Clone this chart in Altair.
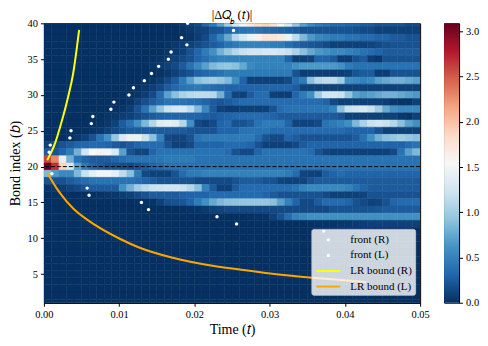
import altair as alt
import pandas as pd

FONT = "Liberation Serif"
T_STEP = 0.001
times = [.0005, .0015, .0025, .0035, .0045, .0055, .0065, .0075, .0085, .0095,
         .0105, .0115, .0125, .0135, .0145, .0155, .0165, .0175, .0185, .0195,
         .0205, .0215, .0225, .0235, .0245, .0255, .0265, .0275, .0285, .0295,
         .0305, .0315, .0325, .0335, .0345, .0355, .0365, .0375, .0385, .0395,
         .0405, .0415, .0425, .0435, .0445, .0455, .0465, .0475, .0485, .0495]

Z = [0, 0, 0, 0, 0, 0, 0, 0, 0, 0]
rows = {
    40: [Z, [0, 0, 0, 0, 0, 0, 0, .02, .05, .1], [.15, .3, .45, .7, 1.0, 1.3, 1.5, 1.7, 1.85, 1.9], [1.8, 1.6, 1.3, .95, .7, .55, .45, .4, .35, .35], [.3, .3, .25, .25, .2, .2, .2, .2, .15, .15]],
    39: [Z, [0, 0, 0, 0, 0, 0, 0, 0, .02, .05], [.1, .12, .2, .22, .3, .35, .4, .42, .4, .35], [.32, .3, .28, .25, .2, .2, .2, .2, .2, .2], [.2, .18, .15, .15, .1, .1, .1, .1, .1, .1]],
    38: [Z, [0, 0, 0, 0, 0, 0, 0, 0, .01, .03], [.08, .15, .3, .5, .75, 1.1, 1.3, 1.45, 1.6, 1.75], [1.75, 1.7, 1.45, 1.15, .85, .65, .55, .5, .45, .45], [.4, .4, .35, .35, .3, .3, .25, .25, .2, .2]],
    37: [Z, [0, 0, 0, 0, 0, 0, .02, .05, .08, .1], [.15, .2, .25, .3, .4, .45, .5, .5, .5, .5], [.47, .45, .38, .3, .25, .22, .2, .15, .1, .1], [.1, .1, .1, .12, .15, .18, .2, .2, .2, .2]],
    36: [Z, [0, 0, 0, 0, 0, .01, .03, .06, .1, .2], [.3, .45, .6, .8, .95, 1.1, 1.2, 1.25, 1.25, 1.3], [1.3, 1.25, 1.2, 1.05, .9, .75, .65, .6, .55, .55], [.5, .45, .4, .35, .3, .25, .25, .25, .25, .25]],
    35: [Z, [0, 0, 0, 0, .01, .03, .05, .1, .15, .2], [.3, .38, .45, .5, .5, .5, .5, .5, .5, .5], [.5, .5, .3, .1, .1, .12, .3, .3, .25, .08], [.08, .2, .25, .08, .05, .2, .2, .2, .2, .2]],
    34: [Z, [0, 0, 0, .01, .03, .06, .1, .15, .25, .4], [.55, .7, .85, .92, .95, .9, .75, .55, .5, .5], [.5, .5, .5, .6, .65, .65, .65, .65, .65, .6], [.45, .4, .4, .4, .4, .4, .4, .4, .4, .4]],
    33: [Z, [0, 0, 0, 0, 0, .02, .05, .1, .15, .2], [.28, .32, .35, .4, .45, .45, .45, .45, .45, .45], [.45, .45, .45, .2, .08, .08, .08, .08, .08, .08], [.1, .2, .25, .25, .08, .08, .2, .2, .2, .2]],
    32: [Z, [0, 0, 0, .01, .03, .07, .15, .25, .45, .7], [.9, .98, 1.0, .95, .85, .6, .3, .1, .1, .1], [.1, .1, .15, .35, .45, .9, 1.1, 1.15, 1.15, 1.0], [.6, .55, .5, .55, .7, .75, .8, .8, .75, .7]],
    31: [Z, [0, 0, .01, .04, .08, .15, .25, .32, .4, .43], [.45, .4, .35, .32, .3, .3, .3, .3, .3, .3], [.3, .3, .3, .25, .12, .1, .1, .1, .1, .1], [.1, .1, .1, .1, .1, .1, .1, .1, .1, .1]],
    30: [Z, [0, .01, .03, .08, .15, .35, .7, .9, 1.05, 1.12], [1.15, 1.15, 1.1, .8, .35, .12, .1, .25, .35, .35], [.1, .08, .08, .3, .45, .6, 1.0, 1.25, 1.25, 1.2], [.95, .7, .65, .7, .75, .8, .8, .75, .7, .65]],
    29: [Z, [0, .03, .1, .18, .25, .32, .4, .4, .4, .38], [.35, .3, .25, .22, .25, .3, .35, .35, .35, .35], [.35, .35, .35, .35, .35, .35, .35, .3, .15, .1], [.1, .1, .1, .1, .1, .08, .05, .03, .02, .1]],
    28: [[0, 0, 0, 0, 0, 0, 0, 0, 0, .01], [.03, .08, .2, .4, .7, .95, 1.2, 1.28, 1.3, 1.15], [.85, .55, .25, .1, .08, .08, .1, .1, .1, .1], [.2, .35, .4, .4, .4, .42, .42, .42, .5, .9], [1.2, 1.25, 1.3, 1.2, 1.0, .75, .6, .55, .55, .55]],
    27: [[0, 0, 0, 0, 0, 0, 0, .01, .03, .05], [.08, .1, .15, .2, .25, .28, .3, .3, .3, .3], [.3, .28, .25, .28, .3, .33, .35, .35, .35, .33], [.3, .25, .25, .25, .25, .25, .25, .25, .25, .2], [.1, .1, .1, .1, .1, .1, .1, .05, .03, .1]],
    26: [[0, 0, 0, 0, 0, 0, .01, .02, .05, .1], [.25, .4, .6, .85, 1.1, 1.35, 1.4, 1.35, 1.1, .6], [.15, .1, .15, .3, .35, .2, .2, .25, .4, .45], [.45, .45, .3, .12, .12, .12, .15, .4, .45, .5], [.6, .85, 1.05, 1.2, 1.25, 1.2, 1.1, .9, .7, .6]],
    25: [[0, 0, 0, 0, 0, .01, .03, .05, .1, .15], [.2, .25, .25, .25, .25, .25, .25, .25, .25, .22], [.2, .2, .2, .3, .3, .3, .4, .4, .4, .4], [.35, .35, .35, .35, .35, .35, .35, .35, .35, .35], [.3, .3, .3, .3, .2, .1, .1, .1, .1, .1]],
    24: [[0, 0, 0, .01, .05, .1, .2, .4, .6, .95], [1.3, 1.45, 1.45, 1.2, .9, .5, .15, .12, .12, .2], [.4, .45, .45, .45, .45, .45, .45, .45, .35, .2], [.15, .15, .3, .25, .2, .2, .2, .2, .2, .2], [.2, .25, .4, .6, .8, .9, .95, 1.0, .95, .9]],
    23: [[.1, .15, .2, .25, .3, .32, .35, .33, .3, .25], [.2, .25, .3, .35, .35, .35, .2, .1, .1, .15], [.3, .3, .3, .3, .35, .35, .35, .3, .2, .1], [.1, .1, .1, .15, .25, .3, .3, .3, .3, .3], [.3, .3, .3, .3, .3, .3, .3, .3, .35, .4]],
    22: [[.25, .2, .3, .45, .8, 1.25, 1.55, 1.6, 1.5, 1.3], [.7, .2, .12, .12, .3, .4, .4, .4, .4, .4], [.4, .4, .4, .4, .35, .2, .15, .15, .3, .4], [.4, .4, .4, .4, .4, .35, .2, .12, .1, .1], [.1, .1, .1, .1, .1, .1, .15, .4, .7, .85]],
    21: [[2.6, 2.3, 1.4, .8, .4, .3, .25, .25, .25, .3], [.35, .4, .4, .4, .4, .42, .45, .45, .45, .45], [.4, .4, .4, .4, .4, .4, .4, .4, .4, .4], [.4, .4, .4, .4, .4, .4, .4, .4, .4, .4], [.4, .4, .4, .4, .4, .4, .4, .4, .4, .4]],
    20: [[3.09, 2.7, 1.9, 1.3, .7, .45, .3, .25, .2, .2], [.17, .15, .2, .25, .3, .35, .4, .4, .4, .4], [.4, .4, .4, .4, .4, .4, .4, .4, .4, .4], [.4, .4, .4, .4, .4, .4, .4, .4, .4, .4], [.4, .4, .4, .4, .4, .4, .4, .4, .4, .4]],
    19: [[.85, .65, .55, .55, .85, 1.2, 1.4, 1.5, 1.5, 1.4], [1.15, .9, .45, .15, .1, .1, .1, .2, .35, .45], [.45, .5, .5, .5, .5, .5, .5, .5, .5, .5], [.5, .5, .45, .35, .12, .1, .1, .25, .3, .35], [.3, .3, .3, .3, .3, .3, .3, .3, .3, .3]],
    18: [[.2, .2, .2, .25, .3, .35, .4, .4, .4, .4], [.4, .4, .35, .3, .25, .2, .2, .2, .2, .2], [.15, .15, .15, .15, .15, .2, .25, .25, .25, .2], [.2, .12, .1, .1, .12, .2, .25, .25, .25, .25], [.25, .25, .25, .25, .25, .25, .25, .25, .25, .25]],
    17: [[.03, .05, .08, .12, .15, .2, .25, .25, .25, .25], [.6, .8, 1.0, 1.12, 1.2, 1.22, 1.25, 1.25, 1.2, 1.1], [.9, .5, .25, .1, .1, .25, .35, .35, .35, .35], [.35, .35, .35, .4, .5, .55, .55, .55, .55, .55], [.5, .4, .3, .25, .25, .25, .25, .25, .25, .25]],
    16: [[0, 0, 0, 0, 0, 0, .01, .02, .04, .05], [.08, .1, .15, .2, .25, .25, .25, .25, .28, .3], [.3, .3, .35, .35, .35, .35, .35, .35, .35, .3], [.25, .2, .2, .2, .2, .2, .2, .15, .1, .1], [.1, .1, .12, .2, .2, .2, .2, .2, .2, .2]],
    15: [Z, [0, 0, .01, .02, .03, .1, .18, .2, .22, .3], [.45, .6, .75, .85, .9, .92, .95, .95, .95, .95], [.9, .7, .5, .3, .15, .15, .25, .35, .35, .35], [.3, .2, .15, .1, .12, .2, .3, .35, .35, .35]],
    14: [Z, [0, 0, 0, 0, 0, 0, 0, 0, .01, .02], [.03, .06, .1, .12, .15, .15, .15, .15, .15, .15], [.15, .15, .15, .15, .15, .15, .15, .15, .2, .2], [.2, .2, .2, .2, .22, .25, .25, .25, .25, .25]],
    13: [Z, Z, [0, 0, 0, 0, 0, 0, 0, .01, .02, .02], [.1, .2, .35, .5, .55, .6, .6, .6, .6, .6], [.6, .6, .6, .6, .6, .6, .6, .6, .6, .6]],
    12: [Z, Z, Z, [0, 0, 0, 0, 0, .01, .02, .02, .03, .04], [.05, .06, .08, .09, .1, .1, .1, .1, .1, .1]],
}
empty_bonds = [1, 2, 3, 4, 5, 6, 7, 8, 9, 10, 11]

front_r_b = [22, 23, 24, 25, 26, 27, 28, 29, 30, 31, 32, 33, 34, 35, 36, 37, 38, 39, 40]
front_r_t = [.0007, .00084, .00345, .0036, .0063, .0065, .0089, .0093, .0113, .0119, .01335, .0143,
             .01525, .01654, .0169, .019, .0183, .0252, .0191]
front_l_b = [19, 17, 16, 15, 14, 13, 12, 11]
front_l_t = [.00106, .00574, .006, .01296, .0139, .023, .0256, .0372]

lr_r_t = [.00044, .00146, .00235, .00322, .00389, .00434, .00468]
lr_r_b = [20.9, 23.2, 26.25, 29.75, 33.03, 36.3, 39.1]
lr_l_t = [.00044, .00168, .00222, .00389, .00574, .01008, .01273, .01711, .02158, .026, .0322, .0366, .0428]
lr_l_b = [19.1, 17.0, 16.2, 14.15, 12.6, 9.93, 8.67, 7.27, 6.29, 5.63, 4.83, 4.41, 3.9]

cmap = ["#053061", "#2166ac", "#4393c3", "#92c5de", "#d1e5f0", "#f7f7f7",
        "#fddbc7", "#f4a582", "#d6604d", "#b2182b", "#67001f"]
cmap_at = [0, .309, .618, .927, 1.236, 1.545, 1.854, 2.163, 2.472, 2.781, 3.09]

records = []
for b, groups in rows.items():
    vals = [v for g in groups for v in g]
    for t, v in zip(times, vals):
        records.append(dict(t0=t - T_STEP / 2, t1=t + T_STEP / 2, b0=b - .5, b1=b + .5, v=v))
for b in empty_bonds:
    for t in times:
        records.append(dict(t0=t - T_STEP / 2, t1=t + T_STEP / 2, b0=b - .5, b1=b + .5, v=0))
cells = pd.DataFrame(records)

fronts = pd.DataFrame(
    [dict(t=t, b=b, s="front (R)") for t, b in zip(front_r_t, front_r_b)]
    + [dict(t=t, b=b, s="front (L)") for t, b in zip(front_l_t, front_l_b)]
)
lr_r = pd.DataFrame(dict(t=lr_r_t, b=lr_r_b))
lr_l = pd.DataFrame(dict(t=lr_l_t, b=lr_l_b))

x_scale = alt.Scale(domain=[0, 0.05], nice=False, zero=False, padding=0)
y_scale = alt.Scale(domain=[1, 40], nice=False, zero=False, padding=0)
x_axis = alt.Axis(values=[0, .01, .02, .03, .04, .05], format=".2f", title="Time (𝑡)", grid=False,
                  titleFontSize=14, titleFont=FONT, titleFontWeight="normal", titlePadding=3,
                  labelOverlap=False, labelFlush=False, labelBound=False)
y_axis = alt.Axis(values=[5, 10, 15, 20, 25, 30, 35, 40], title="Bond index (𝑏)", grid=False, tickCount=8,
                  titleFontSize=14, titleFont=FONT, titleFontWeight="normal", titlePadding=4,
                  labelOverlap=False, labelFlush=False, labelBound=False)

cell_scale = alt.Scale(domain=cmap_at, range=cmap, clamp=True)
heat = alt.Chart(cells).mark_rect(clip=True, strokeWidth=0.5).encode(
    x=alt.X("t0:Q", scale=x_scale, axis=x_axis),
    x2="t1:Q",
    y=alt.Y("b0:Q", scale=y_scale, axis=y_axis),
    y2="b1:Q",
    color=alt.Color("v:Q", scale=cell_scale, legend=None),
    stroke=alt.Stroke("v:Q", scale=cell_scale, legend=None),
)

rule = alt.Chart(pd.DataFrame(dict(b=[20]))).mark_rule(
    color="black", strokeDash=[4, 2], strokeWidth=1
).encode(y=alt.Y("b:Q", scale=y_scale))

DOT = "M-0.21,0A0.21,0.21 0 1,1 0.21,0A0.21,0.21 0 1,1 -0.21,0Z"
BAR = "M-1.5,-0.125H1.5V0.125H-1.5Z"
series = ["front (R)", "front (L)", "LR bound (R)", "LR bound (L)"]

dots = alt.Chart(fronts).mark_point(filled=True, size=256, opacity=1, strokeWidth=0).encode(
    x=alt.X("t:Q", scale=x_scale),
    y=alt.Y("b:Q", scale=y_scale),
    color=alt.Color("s:N", scale=alt.Scale(domain=series, range=["white", "white", "yellow", "orange"]),
                    legend=alt.Legend(
                        title=None, orient="none", legendX=268, legendY=206, zindex=1,
                        fillColor="rgba(255,255,255,0.8)", strokeColor="rgba(204,204,204,0.8)",
                        cornerRadius=2, padding=3, symbolSize=256, symbolStrokeWidth=0, symbolOffset=6,
                        symbolOpacity=1, labelFont=FONT, labelFontSize=11, labelColor="black",
                        labelOffset=14, rowPadding=2.6, symbolType="circle")),
    shape=alt.Shape("s:N", scale=alt.Scale(domain=series, range=[DOT, DOT, BAR, BAR])),
)

line_r = alt.Chart(lr_r).mark_line(color="yellow", strokeWidth=2, interpolate="monotone").encode(
    x=alt.X("t:Q", scale=x_scale), y=alt.Y("b:Q", scale=y_scale), order="b:Q")
line_l = alt.Chart(lr_l).mark_line(color="orange", strokeWidth=2, interpolate="monotone").encode(
    x=alt.X("t:Q", scale=x_scale), y=alt.Y("b:Q", scale=y_scale), order="t:Q")

sub_b = alt.Chart(pd.DataFrame(dict(label=["𝑏"]))).mark_text(
    font=FONT, fontSize=8.5, color="black", clip=False, align="center"
).encode(text="label:N", x=alt.value(188.5), y=alt.value(-2.5))

main = alt.layer(heat, rule, line_r, line_l, dots, sub_b).resolve_scale(
    color="independent", shape="independent", stroke="independent"
).properties(
    width=377, height=280,
    title=alt.TitleParams("|Δ𝑄\u2002(𝑡)|", font=FONT, fontSize=12.5, fontWeight="normal", anchor="middle", offset=-5),
)

bar = alt.Chart(pd.DataFrame(dict(lo=[0], hi=[3.09]))).mark_rect(
    fill=alt.LinearGradient(
        gradient="linear", x1=0, y1=1, x2=0, y2=0,
        stops=[alt.GradientStop(offset=o / 3.09, color=c) for o, c in zip(cmap_at, cmap)],
    ),
).encode(
    y=alt.Y("lo:Q", scale=alt.Scale(domain=[0, 3.09], nice=False, zero=False, padding=0),
            axis=alt.Axis(orient="right", values=[0, .5, 1, 1.5, 2, 2.5, 3], format=".1f", title=None, grid=False,
                          labelOverlap=False, labelFlush=False, labelBound=False)),
    y2="hi:Q",
).properties(width=15, height=280)

chart = alt.hconcat(main, bar, spacing=13).configure(
    font=FONT, padding=dict(left=0, top=0, right=0, bottom=0)
).configure_view(stroke="black", strokeWidth=1).configure_axis(
    domainColor="black", tickColor="black", labelColor="black", titleColor="black",
    labelFont=FONT, labelFontSize=10.5, tickSize=3.5, labelPadding=3, domainWidth=1, tickWidth=1,
)

chart.save("out.html", embed_options={"renderer": "svg", "actions": False})
